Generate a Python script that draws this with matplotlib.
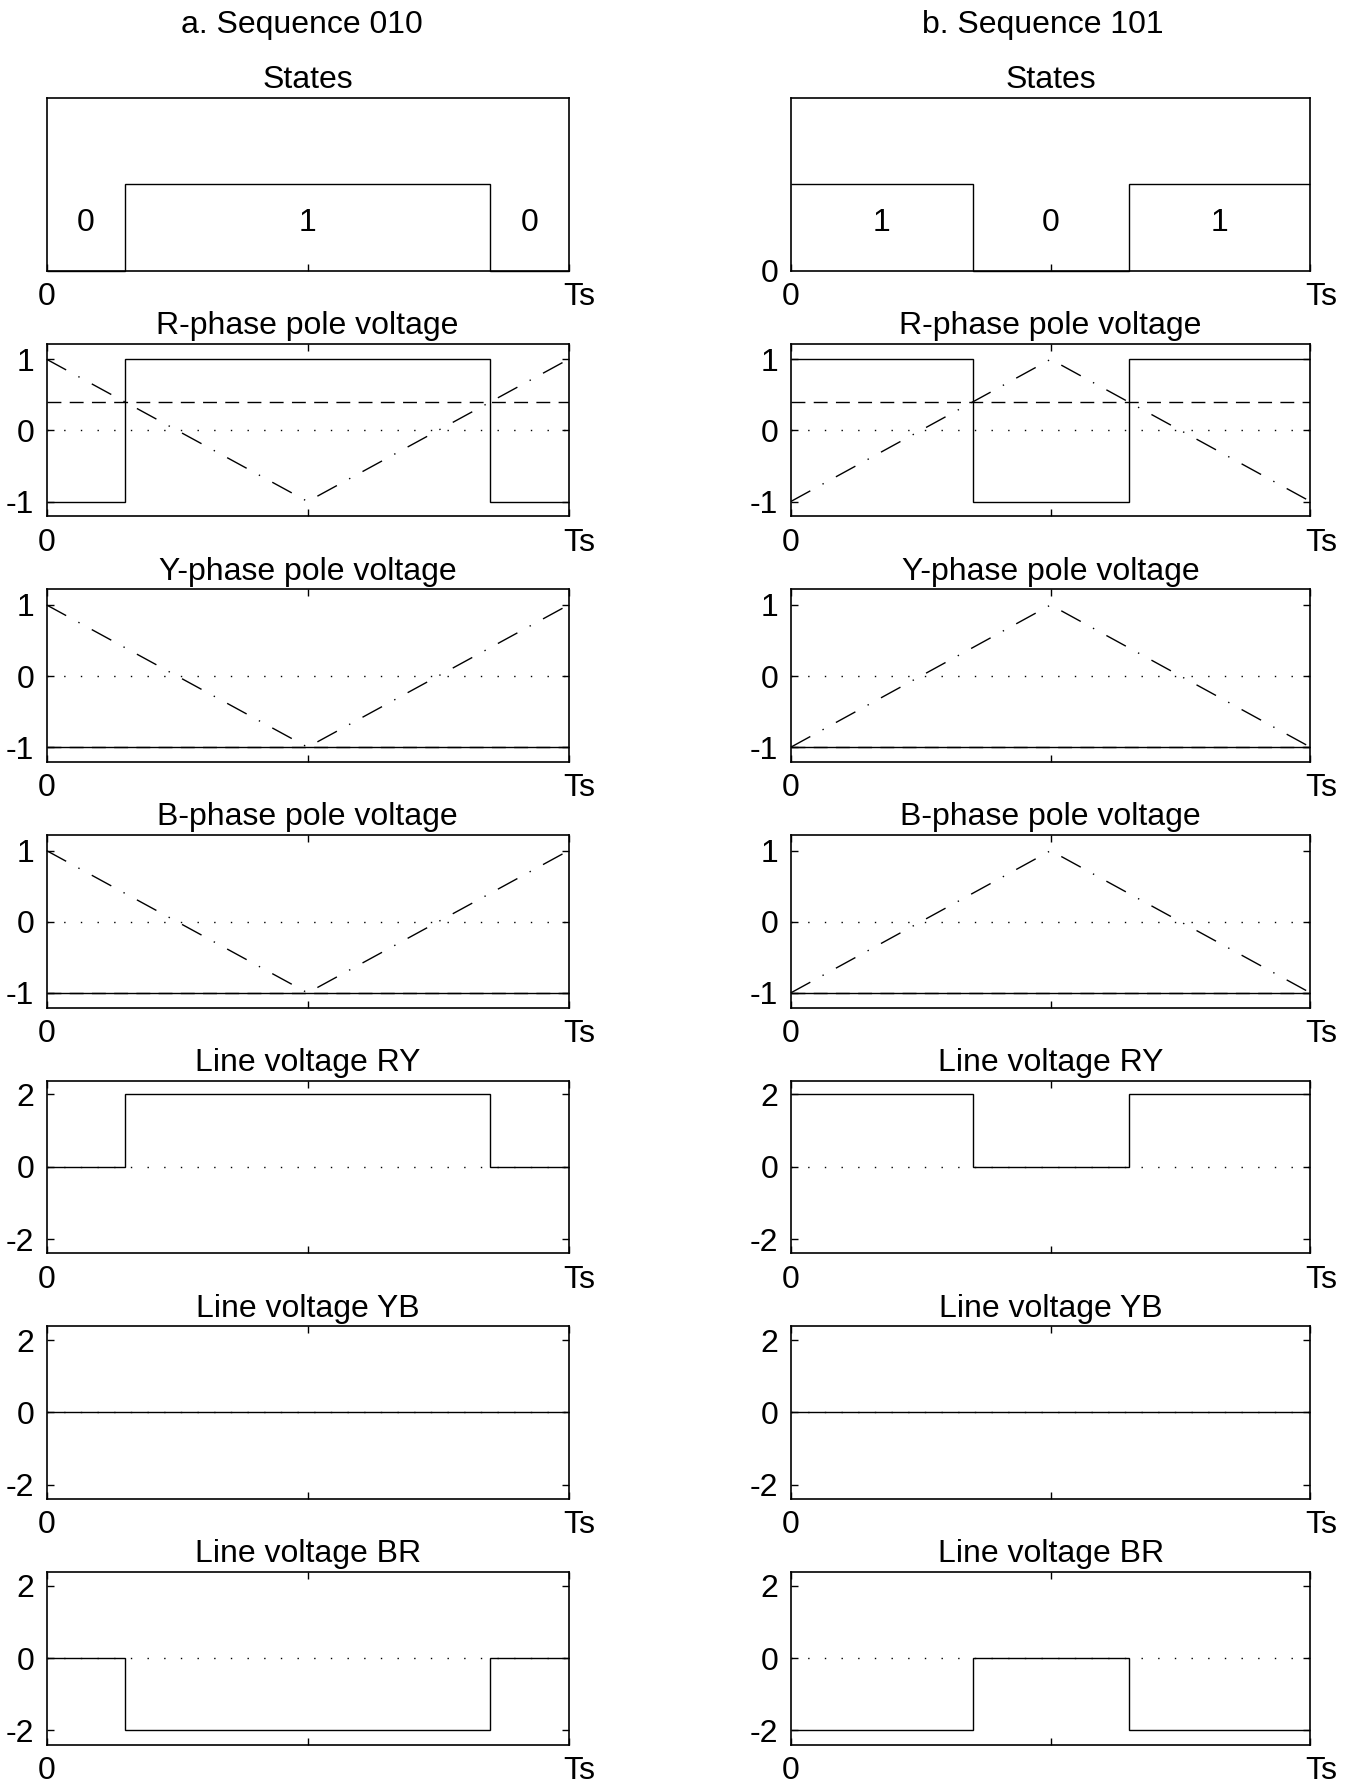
import matplotlib
matplotlib.use('Agg')
import matplotlib.pyplot as plt

plt.rcParams['font.family'] = ['Liberation Sans', 'DejaVu Sans']
plt.rcParams['font.size'] = 23

# switching period split, carrier and references
t_carrier = [0, 0.5, 1]
carrier_010 = [1, -1, 1]
carrier_101 = [-1, 1, -1]
edges_010 = [0, 0.15, 0.85, 1]
edges_101 = [0, 0.35, 0.65, 1]
states_010 = [0, 1, 0]
states_101 = [1, 0, 1]
refs = [0.4, -1, -1]  # R, Y, B modulating references

# pole voltages per interval
pole_010 = [[-1, 1, -1], [-1, -1, -1], [-1, -1, -1]]
pole_101 = [[1, -1, 1], [-1, -1, -1], [-1, -1, -1]]

# line voltages per interval
line_010 = [[0, 2, 0], [0, 0, 0], [0, -2, 0]]
line_101 = [[2, 0, 2], [0, 0, 0], [-2, 0, -2]]

headers = ['a. Sequence 010', 'b. Sequence 101']
pole_titles = ['R-phase pole voltage', 'Y-phase pole voltage', 'B-phase pole voltage']
line_titles = ['Line voltage RY', 'Line voltage YB', 'Line voltage BR']
pole_ticks = [-1, 0, 1]
line_ticks = [-2, 0, 2]
x_ticks = [0, 0.5, 1]

DOT = (1, 11)
DASH = (10, 6)
DASHDOT = (16, 10, 1, 10)

fig = plt.figure(figsize=(13.56, 17.86), dpi=100)

col_left = [0.0344, 0.5832]
col_width = [0.3849, 0.3832]
top0 = 0.05485
height = 0.09675
pitch = 0.13756


def make_axes(col, row, title):
    bottom = 1 - (top0 + row * pitch) - height
    ax = fig.add_axes([col_left[col], bottom, col_width[col], height])
    ax.set_xlim(0, 1)
    ax.set_xticks(x_ticks)
    ax.set_xticklabels(['0', '', ''])
    ax.tick_params(direction='in', length=5, width=1, top=True, right=True, labelsize=23)
    ax.tick_params(axis='x', pad=8)
    ax.tick_params(axis='y', pad=9)
    for s in ax.spines.values():
        s.set_linewidth(1.2)
    ax.annotate('Ts', xy=(1, 0), xycoords='axes fraction', xytext=(8, -8),
                textcoords='offset points', ha='center', va='top', fontsize=23)
    ax.annotate(title, xy=(0.5, 1), xycoords='axes fraction', xytext=(0, 7),
                textcoords='offset points', ha='center', va='baseline', fontsize=23)
    return ax


def zero_line(ax):
    ax.plot([0, 1], [0, 0], color='k', lw=1, dashes=DOT, zorder=1)


for col, (edges, states, carrier, poles, lines) in enumerate([
        (edges_010, states_010, carrier_010, pole_010, line_010),
        (edges_101, states_101, carrier_101, pole_101, line_101)]):
    # states panel
    ax = make_axes(col, 0, 'States')
    ax.stairs(states, edges, baseline=None, color='k', lw=1, clip_on=False)
    ax.set_ylim(0, 2)
    ax.tick_params(top=False, right=False, left=False)
    if col == 1:
        ax.set_yticks([0])
        ax.set_yticklabels(['0'])
    else:
        ax.set_yticks([])
    for i, s in enumerate(states):
        ax.text((edges[i] + edges[i + 1]) / 2, 0.46, str(s), ha='center', va='baseline', fontsize=23)

    # pole voltages
    for k in range(3):
        ax = make_axes(col, k + 1, pole_titles[k])
        zero_line(ax)
        ax.plot([0, 1], [refs[k], refs[k]], color='k', lw=1, dashes=DASH, zorder=2)
        ax.plot(t_carrier, carrier, color='k', lw=1, dashes=DASHDOT, zorder=2, clip_on=False)
        ax.stairs(poles[k], edges, baseline=None, color='k', lw=1, zorder=3, clip_on=False)
        ax.set_ylim(-1.21, 1.22)
        ax.set_yticks(pole_ticks)
        ax.set_yticklabels([str(v) for v in pole_ticks])

    # line voltages
    for k in range(3):
        ax = make_axes(col, k + 4, line_titles[k])
        zero_line(ax)
        ax.stairs(lines[k], edges, baseline=None, color='k', lw=1, zorder=3, clip_on=False)
        ax.set_ylim(-2.4, 2.38)
        ax.set_yticks(line_ticks)
        ax.set_yticklabels([str(v) for v in line_ticks])

fig.text(0.2227, 0.986, headers[0], ha='center', va='center', fontsize=23)
fig.text(0.769, 0.986, headers[1], ha='center', va='center', fontsize=23)

fig.savefig('out.png', dpi=100)
